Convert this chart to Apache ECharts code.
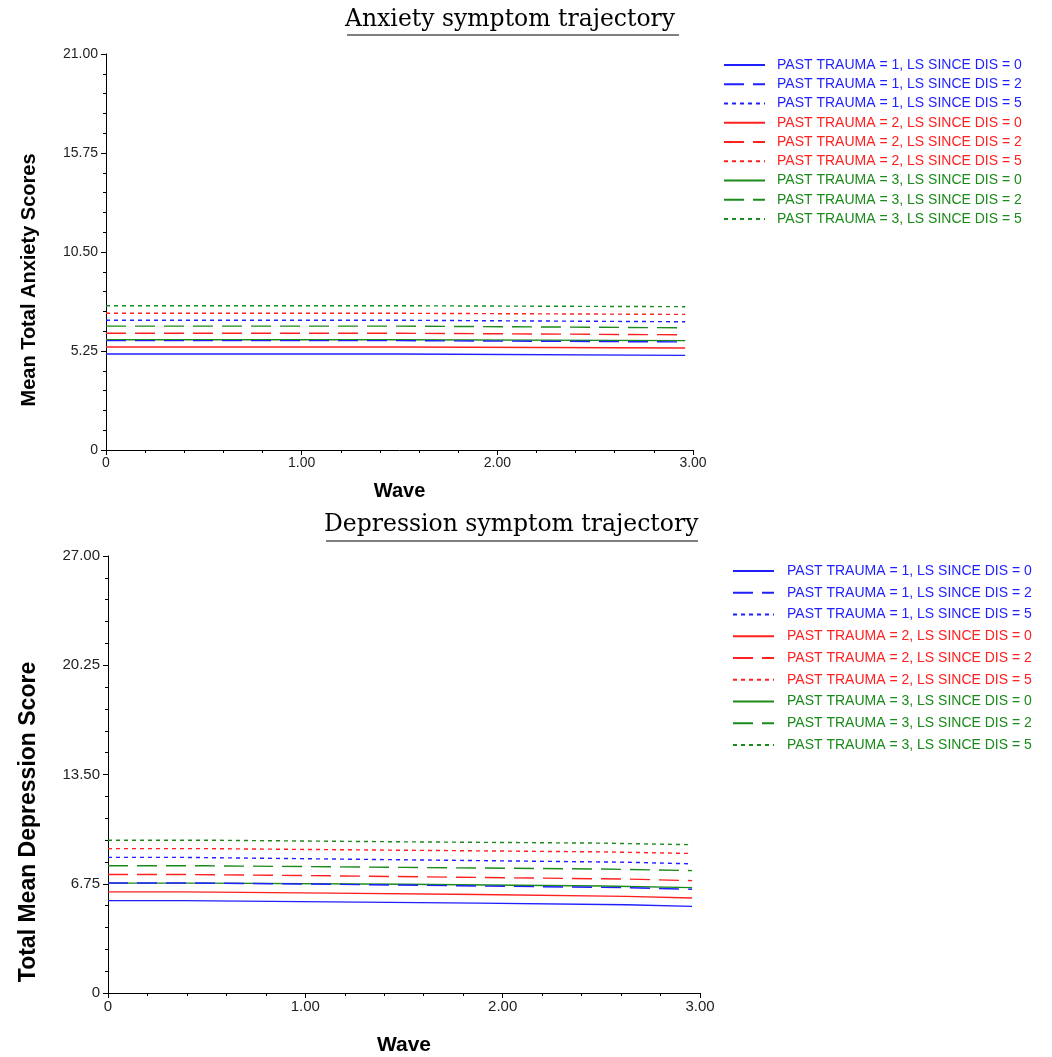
<!DOCTYPE html>
<html>
<head>
<meta charset="utf-8">
<script src="https://cdn.jsdelivr.net/npm/echarts@6/dist/echarts.min.js"></script>
<style>
  html, body { margin: 0; padding: 0; background: #fff; }
  #chart { width: 1052px; height: 1057px; }
</style>
</head>
<body>
<div id="chart"></div>
<script>
// legend labels (same for both panels)
const groupNames = [
  "PAST TRAUMA = 1, LS SINCE DIS = 0",
  "PAST TRAUMA = 1, LS SINCE DIS = 2",
  "PAST TRAUMA = 1, LS SINCE DIS = 5",
  "PAST TRAUMA = 2, LS SINCE DIS = 0",
  "PAST TRAUMA = 2, LS SINCE DIS = 2",
  "PAST TRAUMA = 2, LS SINCE DIS = 5",
  "PAST TRAUMA = 3, LS SINCE DIS = 0",
  "PAST TRAUMA = 3, LS SINCE DIS = 2",
  "PAST TRAUMA = 3, LS SINCE DIS = 5",
];

// axis ticks
const anxTicks = [0, 5.25, 10.5, 15.75, 21];
const depTicks = [0, 6.75, 13.5, 20.25, 27];
const waveTicks = [0, 1, 2, 3];

// anxiety: wave break points and values
const anxWave = [0, 1.5, 2.96];
const anxT1L0 = [5.09, 5.02, 5.02];
const anxT1L2 = [5.80, 5.73, 5.73];
const anxT1L5 = [6.88, 6.80, 6.80];
const anxT2L0 = [5.46, 5.41, 5.41];
const anxT2L2 = [6.19, 6.11, 6.11];
const anxT2L5 = [7.25, 7.19, 7.19];
const anxT3L0 = [5.85, 5.80, 5.80];
const anxT3L2 = [6.57, 6.48, 6.48];
const anxT3L5 = [7.65, 7.60, 7.60];

// depression: two sets of break points
const depWaveA = [0, 0.375, 1.125, 1.875, 2.625, 2.96];
const depWaveB = [0, 0.5, 1.5, 2.5, 2.96];
const depT1L0 = [5.71, 5.63, 5.55, 5.45, 5.35, 5.35];
const depT1L2 = [6.80, 6.72, 6.61, 6.51, 6.41, 6.41];
const depT1L5 = [8.38, 8.28, 8.18, 8.08, 7.98, 7.98];
const depT2L0 = [6.25, 6.17, 6.09, 5.97, 5.87, 5.87];
const depT2L2 = [7.32, 7.24, 7.14, 7.04, 6.94, 6.94];
const depT2L5 = [8.92, 8.82, 8.72, 8.62, 8.62];
const depT3L0 = [6.79, 6.72, 6.61, 6.51, 6.51];
const depT3L2 = [7.86, 7.76, 7.66, 7.56, 7.56];
const depT3L5 = [9.44, 9.34, 9.26, 9.16, 9.16];

const colors = ["#1f1fff", "#1f1fff", "#1f1fff", "#ff2020", "#ff2020", "#ff2020", "#1a8a1a", "#1a8a1a", "#1a8a1a"];
const dashes = ["solid", [20, 9], [4, 4], "solid", [20, 9], [4, 4], "solid", [20, 9], [4, 4]];

const anxGroups = [
  [anxWave, anxT1L0], [anxWave, anxT1L2], [anxWave, anxT1L5],
  [anxWave, anxT2L0], [anxWave, anxT2L2], [anxWave, anxT2L5],
  [anxWave, anxT3L0], [anxWave, anxT3L2], [anxWave, anxT3L5],
];
const depGroups = [
  [depWaveA, depT1L0], [depWaveA, depT1L2], [depWaveA, depT1L5],
  [depWaveA, depT2L0], [depWaveA, depT2L2], [depWaveB, depT2L5],
  [depWaveB, depT3L0], [depWaveB, depT3L2], [depWaveB, depT3L5],
];

const chart = echarts.init(document.getElementById("chart"), null, { renderer: "canvas" });

function fmt(v) {
  return v === 0 ? "0" : v.toFixed(2);
}

function makeSeries(groups, axisIndex) {
  return groups.map((g, i) => ({
    name: groupNames[i],
    type: "line",
    xAxisIndex: axisIndex,
    yAxisIndex: axisIndex,
    step: "end",
    symbol: "none",
    silent: true,
    animation: false,
    data: g[0].map((x, k) => [x, g[1][k]]),
    lineStyle: { color: colors[i], width: 1.4, type: dashes[i] },
    itemStyle: { color: colors[i] },
    z: 10 - i,
  }));
}

function valueAxis(ticks, axisIndex, labelSize, isX) {
  const step = ticks[1] - ticks[0];
  return {
    type: "value",
    gridIndex: axisIndex,
    min: ticks[0],
    max: ticks[ticks.length - 1],
    interval: step,
    axisLine: { show: true, onZero: false, lineStyle: { color: "#000", width: 1 } },
    axisTick: { show: true, length: 5, lineStyle: { color: "#000" } },
    minorTick: { show: true, splitNumber: 5, length: 3, lineStyle: { color: "#000" } },
    splitLine: { show: false },
    axisLabel: {
      formatter: fmt,
      color: "#222",
      fontFamily: "Liberation Sans",
      fontSize: labelSize,
      margin: isX ? 6 : 8,
    },
  };
}

const titleFont = { fontFamily: "DejaVu Serif", fontSize: 23.5, fill: "#000" };

function legendData() {
  return groupNames.map((n, i) => ({ name: n, textStyle: { color: colors[i] } }));
}

const option = {
  backgroundColor: "#fff",
  animation: false,
  grid: [
    { left: 106, top: 54, width: 587, height: 396 },
    { left: 108, top: 556, width: 592, height: 449 },
  ],
  xAxis: [
    Object.assign(valueAxis(waveTicks, 0, 14, true), {
      name: "Wave", nameLocation: "middle", nameGap: 31,
      nameTextStyle: { fontFamily: "Liberation Sans", fontWeight: "bold", fontSize: 20, color: "#000" },
    }),
    Object.assign(valueAxis(waveTicks, 1, 15, true), {
      name: "Wave", nameLocation: "middle", nameGap: 42,
      nameTextStyle: { fontFamily: "Liberation Sans", fontWeight: "bold", fontSize: 21, color: "#000" },
    }),
  ],
  yAxis: [
    valueAxis(anxTicks, 0, 14, false),
    valueAxis(depTicks, 1, 15, false),
  ],
  legend: [
    {
      orient: "vertical", left: 718, top: 53,
      itemWidth: 41, itemHeight: 14, itemGap: 5.25,
      selectedMode: false,
      itemStyle: { opacity: 0 },
      textStyle: { fontFamily: "Liberation Sans", fontSize: 14, padding: [0, 0, 0, 7] },
      data: legendData(),
    },
    {
      orient: "vertical", left: 727, top: 559,
      itemWidth: 41, itemHeight: 14, itemGap: 7.75,
      selectedMode: false,
      itemStyle: { opacity: 0 },
      textStyle: { fontFamily: "Liberation Sans", fontSize: 14, padding: [0, 0, 0, 8] },
      data: legendData(),
    },
  ],
  graphic: [
    // panel titles with underline
    { type: "text", left: 345, top: 8, style: Object.assign({ text: "Anxiety symptom trajectory" }, titleFont) },
    { type: "line", shape: { x1: 347, y1: 35, x2: 679, y2: 35 }, style: { stroke: "#000", lineWidth: 1.2 } },
    { type: "text", left: 324, top: 513, style: Object.assign({ text: "Depression symptom trajectory" }, titleFont) },
    { type: "line", shape: { x1: 326, y1: 541, x2: 698, y2: 541 }, style: { stroke: "#000", lineWidth: 1.2 } },
    // y axis names
    {
      type: "text", x: 29, y: 280, rotation: Math.PI / 2,
      style: { text: "Mean Total Anxiety Scores", fontFamily: "Liberation Sans", fontWeight: "bold", fontSize: 20, fill: "#000", align: "center", verticalAlign: "middle" },
    },
    {
      type: "text", x: 29, y: 822, rotation: Math.PI / 2,
      style: { text: "Total Mean Depression Score", fontFamily: "Liberation Sans", fontWeight: "bold", fontSize: 23, fill: "#000", align: "center", verticalAlign: "middle" },
    },
  ],
  series: makeSeries(anxGroups, 0).concat(makeSeries(depGroups, 1)),
};

chart.setOption(option);
</script>
</body>
</html>
